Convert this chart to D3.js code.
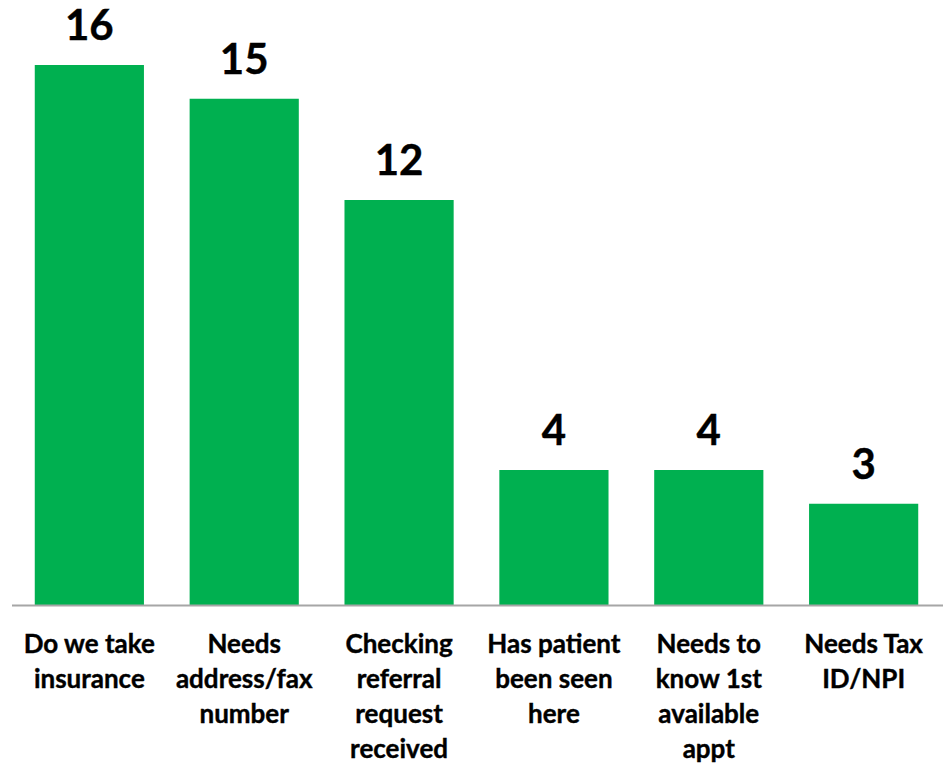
<!DOCTYPE html>
<html>
<head>
<meta charset="utf-8">
<script src="https://cdn.jsdelivr.net/npm/d3@7"></script>
<style>
  html, body { margin: 0; padding: 0; background: #fff; }
  svg { display: block; }
  text { font-family: Lato, "Liberation Sans", sans-serif; font-weight: 700; fill: #000; stroke: #000; stroke-width: 0.4px; }
</style>
</head>
<body>
<svg id="chart" width="943" height="764"></svg>
<script>
// Reasons for referral phone calls
const categories = [
  "Do we take insurance",
  "Needs address/fax number",
  "Checking referral request received",
  "Has patient been seen here",
  "Needs to know 1st available appt",
  "Needs Tax ID/NPI"
];
const categoryLines = [
  ["Do we take", "insurance"],
  ["Needs", "address/fax", "number"],
  ["Checking", "referral", "request", "received"],
  ["Has patient", "been seen", "here"],
  ["Needs to", "know 1st", "available", "appt"],
  ["Needs Tax", "ID/NPI"]
];
const counts = [16, 15, 12, 4, 4, 3];

const svg = d3.select("#chart");
const baseY = 605;

const x = d3.scaleBand()
  .domain(categories)
  .range([12, 941])
  .paddingInner(0.295)
  .paddingOuter(0.147);

const y = d3.scaleLinear()
  .domain([0, 16])
  .range([baseY, 65]);

// bars
svg.append("g").selectAll("rect")
  .data(counts)
  .join("rect")
  .attr("x", (d, i) => x(categories[i]))
  .attr("y", d => y(d))
  .attr("width", x.bandwidth())
  .attr("height", d => baseY - y(d))
  .attr("fill", "#00b050");

// value labels
svg.append("g").selectAll("text")
  .data(counts)
  .join("text")
  .attr("x", (d, i) => x(categories[i]) + x.bandwidth() / 2)
  .attr("y", d => y(d) - 25)
  .attr("text-anchor", "middle")
  .attr("font-size", 42)
  .text(d => d);

// baseline axis
const axis = svg.append("g")
  .attr("transform", `translate(0,${baseY})`)
  .call(d3.axisBottom(x).tickSize(0).tickFormat(""));
axis.select(".domain")
  .attr("d", "M12,0.5H943")
  .attr("stroke", "#a6a6a6")
  .attr("stroke-width", 2);

// category labels, wrapped
const firstLine = 652.5, lineStep = 35.2;
const lab = svg.append("g").selectAll("text")
  .data(categories)
  .join("text")
  .attr("x", d => x(d) + x.bandwidth() / 2)
  .attr("y", firstLine)
  .attr("text-anchor", "middle")
  .attr("font-size", 26);
lab.each(function(d, i) {
  const t = d3.select(this);
  categoryLines[i].forEach((line, j) => {
    t.append("tspan")
      .attr("x", x(d) + x.bandwidth() / 2)
      .attr("y", firstLine + j * lineStep)
      .text(line);
  });
});
</script>
</body>
</html>
